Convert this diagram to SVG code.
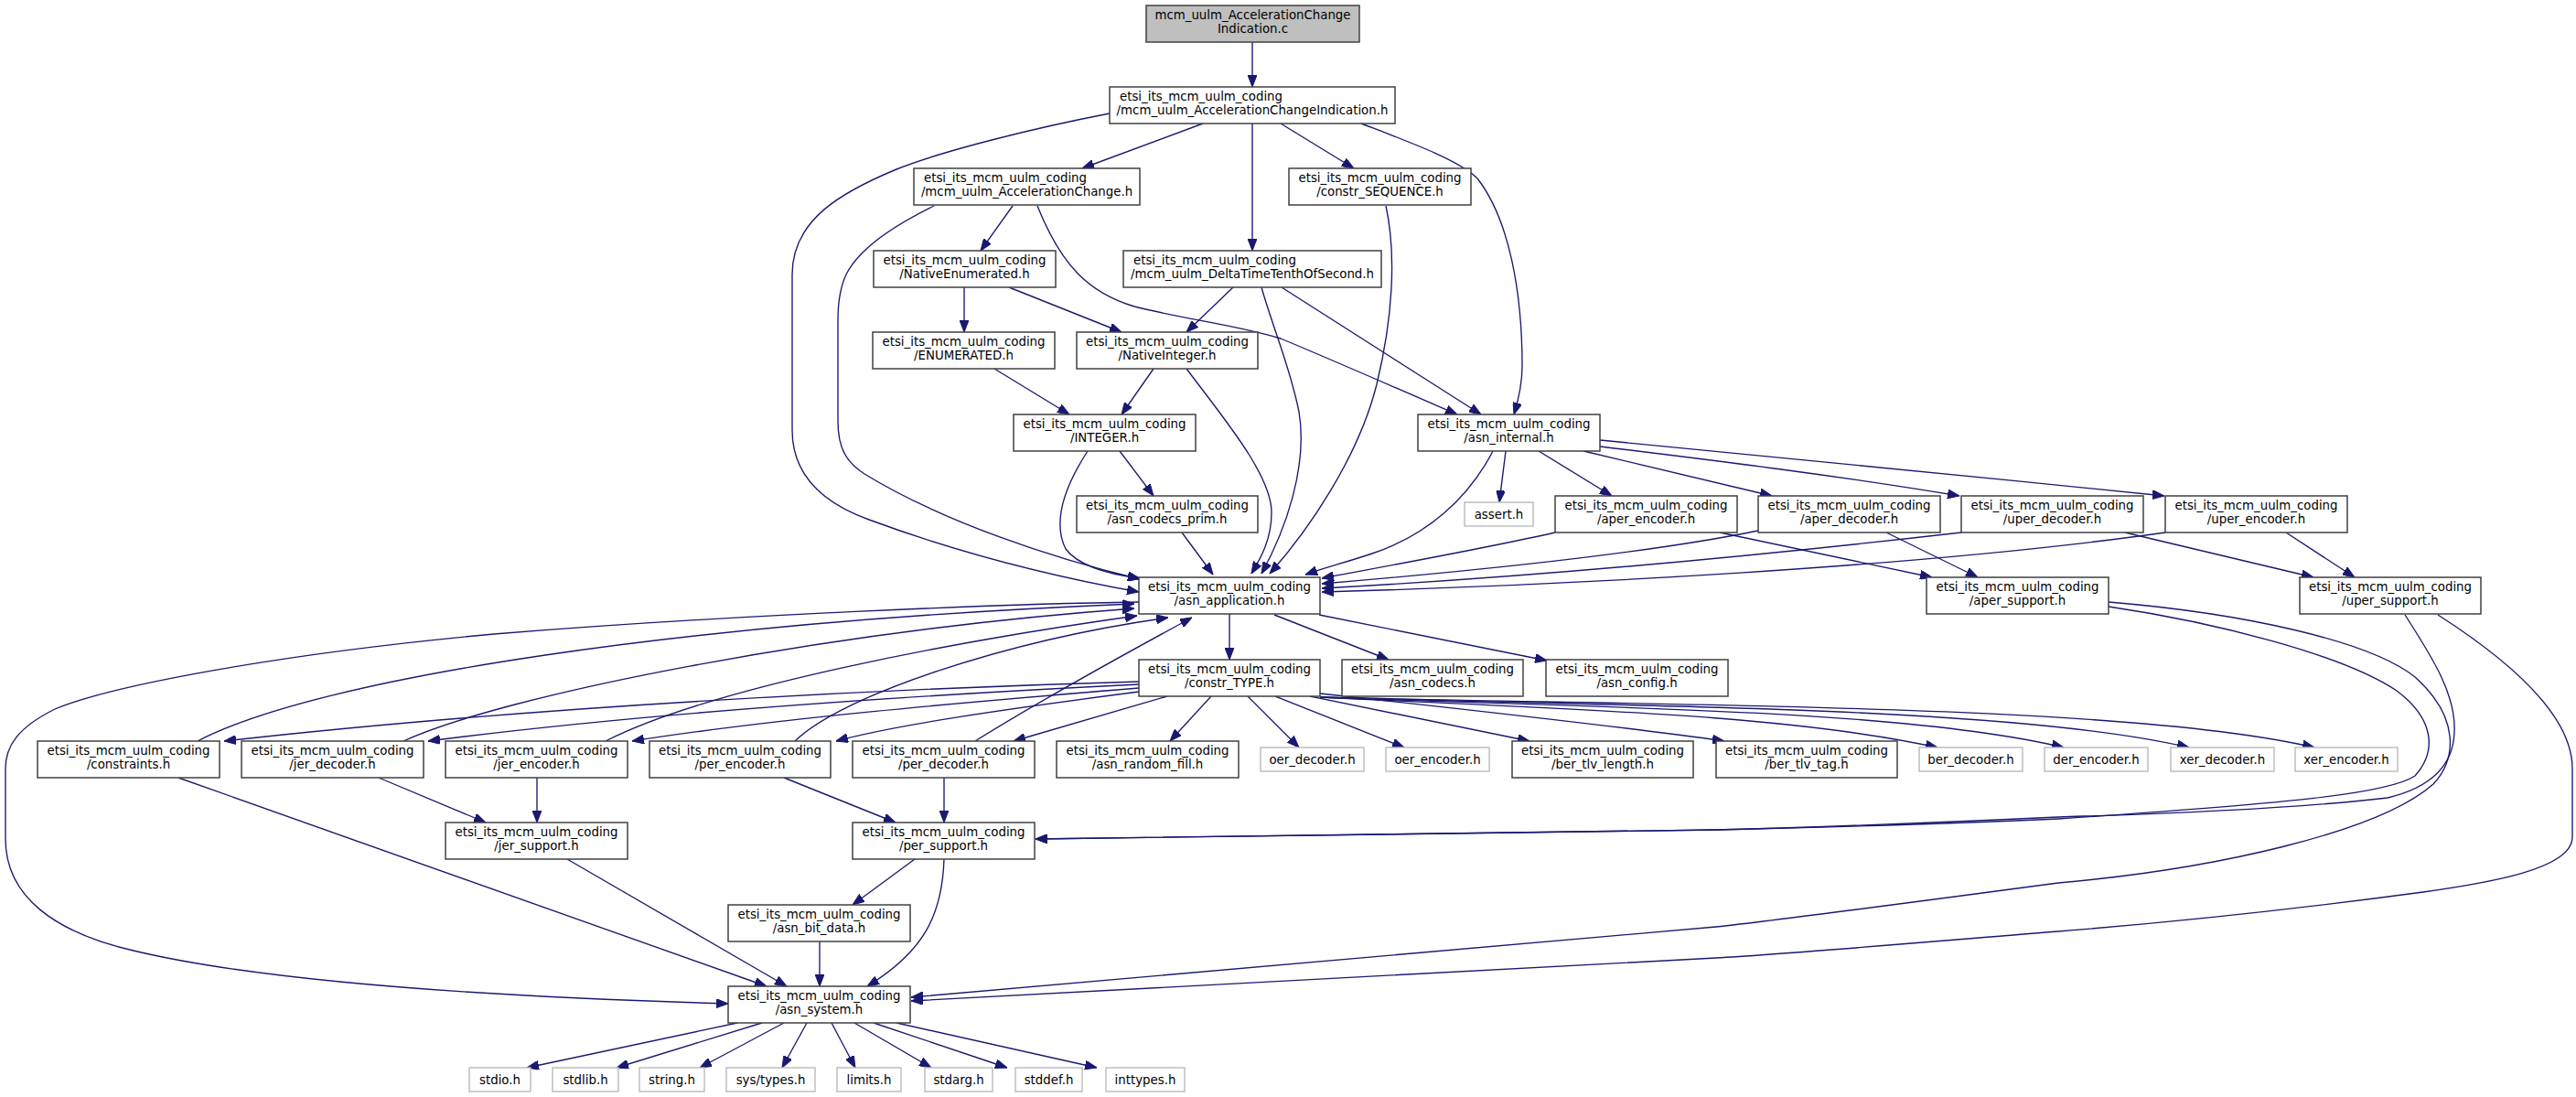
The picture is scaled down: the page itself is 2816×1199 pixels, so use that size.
<svg xmlns="http://www.w3.org/2000/svg" width="2816" height="1199" viewBox="0 0 2816 1199">
<style>
.nd rect{fill:#ffffff;stroke:#404040;stroke-width:1.5}
.ex rect{fill:#ffffff;stroke:#bfbfbf;stroke-width:1.5}
.rt rect{fill:#bfbfbf;stroke:#404040;stroke-width:1.5}
text{font-family:"DejaVu Sans","Liberation Sans",sans-serif;font-size:13.33px;fill:#000000}
.m{text-anchor:middle}
#edges path{fill:none;stroke:#191970;stroke-width:1.35;marker-end:url(#arr)}
</style>
<defs>
<marker id="arr" viewBox="0 0 13 10" refX="13" refY="5" markerWidth="13" markerHeight="10" markerUnits="userSpaceOnUse" orient="auto">
<path d="M0,0 L13,5 L0,10 z" fill="#191970" stroke="#191970" stroke-width="1"/>
</marker>
</defs>
<rect width="2816" height="1199" fill="#ffffff"/>
<g id="edges">
<path d="M1369,46 L1369,95"/>
<path d="M1315,135 L1183,184"/>
<path d="M1213,124 C1130,140 1030,165 980,185 C920,210 866,240 866,300 L866,470 C866,520 900,550 950,568 C1050,605 1150,630 1245,647"/>
<path d="M1369,135 L1369,274"/>
<path d="M1400,135 L1480,184"/>
<path d="M1488,135 C1540,155 1595,175 1615,195 C1650,240 1664,320 1664,400 C1664,420 1659,440 1655,453"/>
<path d="M1107,225 L1072,274"/>
<path d="M1134,225 C1160,290 1190,320 1240,335 C1300,350 1350,355 1400,370 C1460,395 1540,430 1593,453"/>
<path d="M1021,225 C980,245 940,270 925,300 C918,315 916,330 916,350 L916,460 C916,490 925,505 945,518 C1030,570 1150,610 1246,633"/>
<path d="M1515,225 C1527,280 1522,350 1505,420 C1485,500 1430,580 1388,627"/>
<path d="M1054,314 L1054,363"/>
<path d="M1103,314 L1226,363"/>
<path d="M1348,314 L1297,363"/>
<path d="M1401,314 L1619,453"/>
<path d="M1379,314 C1392,360 1410,400 1420,450 C1430,510 1405,580 1379,627"/>
<path d="M1087,403 L1169,453"/>
<path d="M1261,403 L1226,453"/>
<path d="M1297,403 C1340,460 1390,520 1390,560 C1390,590 1378,610 1368,627"/>
<path d="M1224,493 L1261,542"/>
<path d="M1189,493 C1165,530 1150,570 1165,600 C1180,620 1215,628 1246,632"/>
<path d="M1292,582 L1326,628"/>
<path d="M1632,493 C1605,545 1560,585 1500,605 C1470,615 1450,620 1427,628"/>
<path d="M1646,493 L1639,549"/>
<path d="M1682,493 L1762,542"/>
<path d="M1731,493 L1937,542"/>
<path d="M1749,488 C1880,504 2010,520 2142,542"/>
<path d="M1749,481 C1900,495 2150,520 2366,542"/>
<path d="M1700,582 C1620,600 1520,618 1445,632"/>
<path d="M1880,582 L2112,631"/>
<path d="M1922,580 C1800,605 1600,625 1445,638"/>
<path d="M2062,582 L2162,631"/>
<path d="M2144,582 C1900,610 1650,632 1445,643"/>
<path d="M2323,582 L2529,631"/>
<path d="M2367,582 C2100,620 1700,640 1445,647"/>
<path d="M2499,582 L2574,631"/>
<path d="M2305,663 C2420,680 2560,715 2620,755 C2660,785 2665,820 2640,848 C2610,868 2500,878 2250,895 C2100,902 1950,905 1876,907 L1132,917"/>
<path d="M2305,658 C2450,670 2590,700 2640,740 C2690,785 2685,830 2660,857 C2600,910 2420,950 2250,965 C2100,985 1950,1005 1876,1013 L996,1090"/>
<path d="M2629,672 C2660,720 2685,760 2683,800 C2682,835 2660,860 2610,872 C2500,885 2350,890 2250,893 C2100,900 1950,905 1876,907 L1132,917"/>
<path d="M2665,672 C2740,720 2812,780 2812,840 L2812,915 C2812,950 2720,965 2649,975 C2500,995 2350,1010 2250,1018 C2100,1030 1950,1043 1876,1047 L996,1094"/>
<path d="M1344,671 L1344,721"/>
<path d="M1393,672 L1518,721"/>
<path d="M1442,672 L1691,722"/>
<path d="M1245,658 C1100,660 800,672 540,693 C300,715 120,750 60,775 C20,795 6,815 6,840 L6,917 C6,980 60,1020 150,1040 C300,1075 550,1090 796,1097"/>
<path d="M1245,745 C1000,752 600,770 245,810"/>
<path d="M1245,748 C1000,760 700,780 468,810"/>
<path d="M1245,752 C1050,768 850,785 691,810"/>
<path d="M1245,756 C1100,775 980,792 914,810"/>
<path d="M1276,761 L1108,810"/>
<path d="M216,810 C350,740 750,680 1240,660"/>
<path d="M441,810 C550,760 900,690 1240,665"/>
<path d="M662,810 C780,750 1050,700 1243,673"/>
<path d="M869,810 C920,760 1100,700 1277,675"/>
<path d="M1066,810 C1130,770 1220,720 1303,675"/>
<path d="M1324,761 L1279,810"/>
<path d="M1364,761 L1420,817"/>
<path d="M1394,761 L1535,817"/>
<path d="M1432,761 L1672,810"/>
<path d="M1443,758 C1600,775 1780,795 1885,810"/>
<path d="M1443,762 C1700,775 1950,780 2118,817"/>
<path d="M1443,762 C1750,774 2080,775 2256,817"/>
<path d="M1443,762 C1800,773 2200,772 2393,817"/>
<path d="M1443,762 C1850,772 2330,770 2530,817"/>
<path d="M195,850 L838,1078"/>
<path d="M414,850 L531,899"/>
<path d="M587,850 L587,899"/>
<path d="M620,939 L860,1078"/>
<path d="M857,850 L979,899"/>
<path d="M1032,850 L1032,899"/>
<path d="M1000,939 L932,989"/>
<path d="M1032,939 C1030,1000 1010,1040 948,1078"/>
<path d="M896,1029 L896,1078"/>
<path d="M806,1118 L576,1167"/>
<path d="M833,1118 L674,1167"/>
<path d="M857,1118 L765,1167"/>
<path d="M882,1118 L855,1167"/>
<path d="M909,1118 L935,1167"/>
<path d="M934,1118 L1018,1167"/>
<path d="M955,1118 L1101,1167"/>
<path d="M980,1118 L1199,1167"/>
</g>
<g id="n_root" class="rt"><rect x="1253" y="6" width="233" height="40"/><text class="m" x="1369.5" y="21">mcm_uulm_AccelerationChange</text><text class="m" x="1369.5" y="35.5">Indication.c</text></g>
<g id="n_aci" class="nd"><rect x="1213" y="95" width="312" height="40"/><text x="1224" y="110">etsi_its_mcm_uulm_coding</text><text class="m" x="1369" y="124.5">/mcm_uulm_AccelerationChangeIndication.h</text></g>
<g id="n_ac" class="nd"><rect x="999" y="184" width="247" height="40"/><text x="1010" y="199">etsi_its_mcm_uulm_coding</text><text class="m" x="1122.5" y="213.5">/mcm_uulm_AccelerationChange.h</text></g>
<g id="n_seq" class="nd"><rect x="1409" y="184" width="199" height="40"/><text class="m" x="1508.5" y="199">etsi_its_mcm_uulm_coding</text><text class="m" x="1508.5" y="213.5">/constr_SEQUENCE.h</text></g>
<g id="n_ne" class="nd"><rect x="955" y="274" width="199" height="40"/><text class="m" x="1054.5" y="289">etsi_its_mcm_uulm_coding</text><text class="m" x="1054.5" y="303.5">/NativeEnumerated.h</text></g>
<g id="n_dt" class="nd"><rect x="1228" y="274" width="282" height="40"/><text x="1239" y="289">etsi_its_mcm_uulm_coding</text><text class="m" x="1369" y="303.5">/mcm_uulm_DeltaTimeTenthOfSecond.h</text></g>
<g id="n_enum" class="nd"><rect x="954" y="363" width="199" height="40"/><text class="m" x="1053.5" y="378">etsi_its_mcm_uulm_coding</text><text class="m" x="1053.5" y="392.5">/ENUMERATED.h</text></g>
<g id="n_ni" class="nd"><rect x="1177" y="363" width="198" height="40"/><text class="m" x="1276" y="378">etsi_its_mcm_uulm_coding</text><text class="m" x="1276" y="392.5">/NativeInteger.h</text></g>
<g id="n_int" class="nd"><rect x="1108" y="453" width="199" height="40"/><text class="m" x="1207.5" y="468">etsi_its_mcm_uulm_coding</text><text class="m" x="1207.5" y="482.5">/INTEGER.h</text></g>
<g id="n_asnint" class="nd"><rect x="1550" y="453" width="199" height="40"/><text class="m" x="1649.5" y="468">etsi_its_mcm_uulm_coding</text><text class="m" x="1649.5" y="482.5">/asn_internal.h</text></g>
<g id="n_cprim" class="nd"><rect x="1177" y="542" width="198" height="40"/><text class="m" x="1276" y="557">etsi_its_mcm_uulm_coding</text><text class="m" x="1276" y="571.5">/asn_codecs_prim.h</text></g>
<g id="n_assert" class="ex"><rect x="1601" y="549" width="75" height="26"/><text class="m" x="1638.5" y="566.5">assert.h</text></g>
<g id="n_aperenc" class="nd"><rect x="1700" y="542" width="199" height="40"/><text class="m" x="1799.5" y="557">etsi_its_mcm_uulm_coding</text><text class="m" x="1799.5" y="571.5">/aper_encoder.h</text></g>
<g id="n_aperdec" class="nd"><rect x="1922" y="542" width="199" height="40"/><text class="m" x="2021.5" y="557">etsi_its_mcm_uulm_coding</text><text class="m" x="2021.5" y="571.5">/aper_decoder.h</text></g>
<g id="n_uperdec" class="nd"><rect x="2144" y="542" width="199" height="40"/><text class="m" x="2243.5" y="557">etsi_its_mcm_uulm_coding</text><text class="m" x="2243.5" y="571.5">/uper_decoder.h</text></g>
<g id="n_uperenc" class="nd"><rect x="2367" y="542" width="199" height="40"/><text class="m" x="2466.5" y="557">etsi_its_mcm_uulm_coding</text><text class="m" x="2466.5" y="571.5">/uper_encoder.h</text></g>
<g id="n_asnapp" class="nd"><rect x="1245" y="631" width="198" height="40"/><text class="m" x="1344" y="646">etsi_its_mcm_uulm_coding</text><text class="m" x="1344" y="660.5">/asn_application.h</text></g>
<g id="n_apersup" class="nd"><rect x="2106" y="631" width="199" height="40"/><text class="m" x="2205.5" y="646">etsi_its_mcm_uulm_coding</text><text class="m" x="2205.5" y="660.5">/aper_support.h</text></g>
<g id="n_upersup" class="nd"><rect x="2514" y="631" width="198" height="40"/><text class="m" x="2613" y="646">etsi_its_mcm_uulm_coding</text><text class="m" x="2613" y="660.5">/uper_support.h</text></g>
<g id="n_ctype" class="nd"><rect x="1245" y="721" width="198" height="40"/><text class="m" x="1344" y="736">etsi_its_mcm_uulm_coding</text><text class="m" x="1344" y="750.5">/constr_TYPE.h</text></g>
<g id="n_codecs" class="nd"><rect x="1467" y="721" width="198" height="40"/><text class="m" x="1566" y="736">etsi_its_mcm_uulm_coding</text><text class="m" x="1566" y="750.5">/asn_codecs.h</text></g>
<g id="n_config" class="nd"><rect x="1690" y="721" width="199" height="40"/><text class="m" x="1789.5" y="736">etsi_its_mcm_uulm_coding</text><text class="m" x="1789.5" y="750.5">/asn_config.h</text></g>
<g id="n_constr" class="nd"><rect x="41" y="810" width="199" height="40"/><text class="m" x="140.5" y="825">etsi_its_mcm_uulm_coding</text><text class="m" x="140.5" y="839.5">/constraints.h</text></g>
<g id="n_jerdec" class="nd"><rect x="264" y="810" width="199" height="40"/><text class="m" x="363.5" y="825">etsi_its_mcm_uulm_coding</text><text class="m" x="363.5" y="839.5">/jer_decoder.h</text></g>
<g id="n_jerenc" class="nd"><rect x="487" y="810" width="199" height="40"/><text class="m" x="586.5" y="825">etsi_its_mcm_uulm_coding</text><text class="m" x="586.5" y="839.5">/jer_encoder.h</text></g>
<g id="n_perenc" class="nd"><rect x="710" y="810" width="198" height="40"/><text class="m" x="809" y="825">etsi_its_mcm_uulm_coding</text><text class="m" x="809" y="839.5">/per_encoder.h</text></g>
<g id="n_perdec" class="nd"><rect x="932" y="810" width="199" height="40"/><text class="m" x="1031.5" y="825">etsi_its_mcm_uulm_coding</text><text class="m" x="1031.5" y="839.5">/per_decoder.h</text></g>
<g id="n_rand" class="nd"><rect x="1155" y="810" width="199" height="40"/><text class="m" x="1254.5" y="825">etsi_its_mcm_uulm_coding</text><text class="m" x="1254.5" y="839.5">/asn_random_fill.h</text></g>
<g id="n_oerdec" class="ex"><rect x="1378" y="817" width="113" height="26"/><text class="m" x="1434.5" y="834.5">oer_decoder.h</text></g>
<g id="n_oerenc" class="ex"><rect x="1515" y="817" width="113" height="26"/><text class="m" x="1571.5" y="834.5">oer_encoder.h</text></g>
<g id="n_berlen" class="nd"><rect x="1653" y="810" width="198" height="40"/><text class="m" x="1752" y="825">etsi_its_mcm_uulm_coding</text><text class="m" x="1752" y="839.5">/ber_tlv_length.h</text></g>
<g id="n_bertag" class="nd"><rect x="1876" y="810" width="198" height="40"/><text class="m" x="1975" y="825">etsi_its_mcm_uulm_coding</text><text class="m" x="1975" y="839.5">/ber_tlv_tag.h</text></g>
<g id="n_berdec" class="ex"><rect x="2098" y="817" width="113" height="26"/><text class="m" x="2154.5" y="834.5">ber_decoder.h</text></g>
<g id="n_derenc" class="ex"><rect x="2235" y="817" width="113" height="26"/><text class="m" x="2291.5" y="834.5">der_encoder.h</text></g>
<g id="n_xerdec" class="ex"><rect x="2373" y="817" width="113" height="26"/><text class="m" x="2429.5" y="834.5">xer_decoder.h</text></g>
<g id="n_xerenc" class="ex"><rect x="2509" y="817" width="112" height="26"/><text class="m" x="2565" y="834.5">xer_encoder.h</text></g>
<g id="n_jersup" class="nd"><rect x="487" y="899" width="199" height="40"/><text class="m" x="586.5" y="914">etsi_its_mcm_uulm_coding</text><text class="m" x="586.5" y="928.5">/jer_support.h</text></g>
<g id="n_persup" class="nd"><rect x="932" y="899" width="199" height="40"/><text class="m" x="1031.5" y="914">etsi_its_mcm_uulm_coding</text><text class="m" x="1031.5" y="928.5">/per_support.h</text></g>
<g id="n_bit" class="nd"><rect x="796" y="989" width="199" height="40"/><text class="m" x="895.5" y="1004">etsi_its_mcm_uulm_coding</text><text class="m" x="895.5" y="1018.5">/asn_bit_data.h</text></g>
<g id="n_sys" class="nd"><rect x="796" y="1078" width="199" height="40"/><text class="m" x="895.5" y="1093">etsi_its_mcm_uulm_coding</text><text class="m" x="895.5" y="1107.5">/asn_system.h</text></g>
<g id="n_stdio" class="ex"><rect x="513" y="1167" width="67" height="26"/><text class="m" x="546.5" y="1184.5">stdio.h</text></g>
<g id="n_stdlib" class="ex"><rect x="604" y="1167" width="72" height="26"/><text class="m" x="640" y="1184.5">stdlib.h</text></g>
<g id="n_string" class="ex"><rect x="699" y="1167" width="71" height="26"/><text class="m" x="734.5" y="1184.5">string.h</text></g>
<g id="n_systypes" class="ex"><rect x="794" y="1167" width="97" height="26"/><text class="m" x="842.5" y="1184.5">sys/types.h</text></g>
<g id="n_limits" class="ex"><rect x="915" y="1167" width="70" height="26"/><text class="m" x="950" y="1184.5">limits.h</text></g>
<g id="n_stdarg" class="ex"><rect x="1011" y="1167" width="74" height="26"/><text class="m" x="1048" y="1184.5">stdarg.h</text></g>
<g id="n_stddef" class="ex"><rect x="1110" y="1167" width="73" height="26"/><text class="m" x="1146.5" y="1184.5">stddef.h</text></g>
<g id="n_inttypes" class="ex"><rect x="1209" y="1167" width="86" height="26"/><text class="m" x="1252" y="1184.5">inttypes.h</text></g>
</svg>
